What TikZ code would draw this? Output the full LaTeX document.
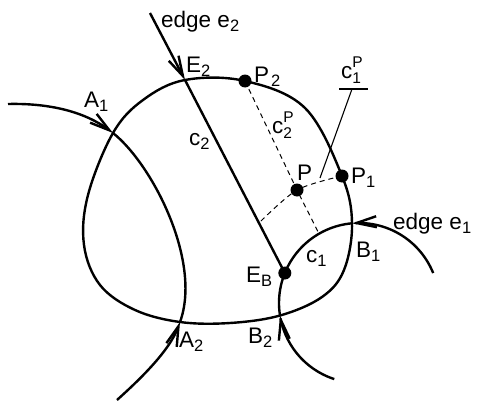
\documentclass[tikz,border=0pt]{standalone}
\usepackage{fontspec}
\setmainfont{Liberation Sans}
\usetikzlibrary{arrows.meta,calc}

\newcommand{\idx}[1]{\raisebox{-4pt}{\fontsize{16.5}{16.5}\selectfont #1}}
\newcommand{\idxup}[2]{\rlap{\raisebox{11pt}{\fontsize{15.5}{15.5}\selectfont #2}}\raisebox{-5pt}{\fontsize{15.5}{15.5}\selectfont #1}}

\tikzset{
  curve/.style={line width=2.4pt},
  guide/.style={line width=1pt, dash pattern=on 5pt off 4pt},
  leader/.style={line width=1.1pt},
  barb/.style={-{Straight Barb[length=20pt,width=11pt]}},
  lbl/.style={inner sep=0pt, anchor=base west, font=\fontsize{22.5}{26}\selectfont},
  dot/.style={circle, fill, inner sep=0pt, minimum size=13pt},
}

\begin{document}
\begin{tikzpicture}[x=1pt, y=-1pt]
	\useasboundingbox (0,0) rectangle (479,404);
	
	% points
	\coordinate (e2start) at (150,13);
	\coordinate (E2) at (185,80);
	\coordinate (EB) at ({359+80*cos(202)},{303+80*sin(202)});
	\coordinate (B1) at ({359+80*cos(-95)},{303+80*sin(-95)});
	\coordinate (B2) at ({359+80*cos(171)},{303+80*sin(171)});
	\coordinate (A1) at (113,133);
	\coordinate (A2) at (180,322);
	\coordinate (pP) at (297,190);
	\coordinate (pP1) at (342,176);
	\coordinate (pP2) at (245,81);
	\coordinate (Q1) at ($(e2start)!0.8077!(EB)$);
	\coordinate (Q2) at ({359+80*cos(-120)},{303+80*sin(-120)});
	
	% region boundary
	\draw[curve] plot[smooth cycle, tension=0.6] coordinates {(E2) (pP2) (305,108) (pP1) (B1) (344,270) (322,297) (B2) (230,323) (A2) (135,310) (100,285) (84,245) (88,195) (A1) (143,100)};
	
	% edge on the left
	\draw[curve, barb] (8,104) .. controls (50,103) and (85,112) .. (A1);
	\draw[curve] (A1) .. controls (153,165) and (202,262) .. (A2);
	\draw[curve, barb] (117,400) .. controls (137,382) and (169,352) .. (A2);
	
	% edge on the right
	\draw[curve, barb] plot[domain=-22:-95, samples=30] ({359+80*cos(\x)},{303+80*sin(\x)});
	\draw[curve] plot[domain=-95:-189, samples=40] ({359+80*cos(\x)},{303+80*sin(\x)});
	\draw[curve, barb] plot[domain=108:171, samples=30] ({359+80*cos(\x)},{303+80*sin(\x)});
	
	% edge e2
	\draw[curve, barb] (e2start) -- (E2);
	\draw[curve] (E2) -- (EB);
	
	% dashed lines through P
	\draw[guide] (pP2) -- (pP) -- (Q2);
	\draw[guide] plot[smooth] coordinates {(pP1) (pP) (Q1)};
	
	% leader for c1P
	\coordinate (ul1) at (339,89);
	\coordinate (ul2) at (368,89);
	\coordinate (ulm) at (352,89);
	\coordinate (lp) at (320,178);
	\draw[leader] (ul1) -- (ul2);
	\draw[leader] (ulm) -- (lp);
	
	% dots
	\node[dot] (P) at (pP) {};
	\node[dot] (P1) at (pP1) {};
	\node[dot] (P2) at (pP2) {};
	\node[dot] (Eb) at (EB) {};
	
	% labels
	\node[lbl] (te2) at (161,28) {edge e\idx{2}};
	\node[lbl] (te1) at (393,229) {edge e\idx{1}};
	\node[lbl] (lE2) at (186,72) {E\idx{2}};
	\node[lbl] (lA1) at (84,107) {A\idx{1}};
	\node[lbl] (lc2) at (189,145) {c\idx{2}};
	\node[lbl] (lP2) at (254,82) {P\kern2pt\idx{2}};
	\node[lbl] (lc1P) at (341,78) {c\idxup{1}{P}};
	\node[lbl] (lc2P) at (272,133) {c\idxup{2}{P}};
	\node[lbl] (lP) at (297,180) {P};
	\node[lbl] (lP1) at (351,183) {P\idx{1}};
	\node[lbl] (lB1) at (356,257) {B\idx{1}};
	\node[lbl] (lc1) at (306,262) {c\idx{1}};
	\node[lbl] (lEB) at (246,282) {E\idx{B}};
	\node[lbl] (lB2) at (248,343) {B\idx{2}};
	\node[lbl] (lA2) at (179,347) {A\idx{2}};
\end{tikzpicture}
\end{document}
